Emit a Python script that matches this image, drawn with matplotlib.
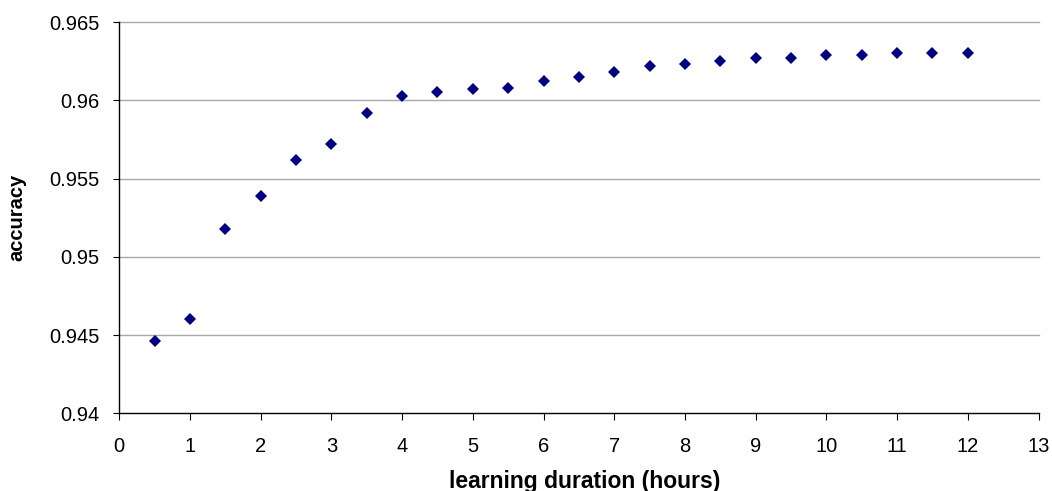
"""Accuracy vs learning duration scatter, Excel-style."""

import numpy as np
import matplotlib
matplotlib.use("Agg")
import matplotlib.pyplot as plt

plt.rcParams['font.family'] = ['Liberation Sans', 'DejaVu Sans']

hours = [0.5, 1, 1.5, 2, 2.5, 3, 3.5, 4, 4.5, 5, 5.5, 6,
         6.5, 7, 7.5, 8, 8.5, 9, 9.5, 10, 10.5, 11, 11.5, 12]
accuracy = [0.9446, 0.9460, 0.9518, 0.9539, 0.9562, 0.9572, 0.9592, 0.9603,
            0.9605, 0.9607, 0.9608, 0.9612, 0.9615, 0.9618, 0.9622, 0.9623,
            0.9625, 0.9627, 0.9627, 0.9629, 0.9629, 0.9630, 0.9630, 0.9630]

x_ticks = list(range(0, 14))
y_ticks = [0.94, 0.945, 0.95, 0.955, 0.96, 0.965]
y_tick_labels = ['0.94', '0.945', '0.95', '0.955', '0.96', '0.965']

W, H = 1052, 491
fig = plt.figure(figsize=(W / 100, H / 100), dpi=100)
left, right, top, bottom = 119.3, 1038.5, 22, 413.3
ax = fig.add_axes([left / W, 1 - bottom / H, (right - left) / W, (bottom - top) / H])

grid_color = '#a8a8a8'
for yv in y_ticks[1:]:
    ax.axhline(yv, color=grid_color, lw=1.0, zorder=1, clip_on=False)

ax.plot(hours, accuracy, linestyle='none', marker='D', markersize=5.8,
        color='#000080', markeredgewidth=0, zorder=3)

ax.set_xlim(0, 13)
ax.set_ylim(0.94, 0.965)
ax.set_xticks(x_ticks)
ax.set_yticks(y_ticks)
ax.set_yticklabels(y_tick_labels)

for side in ('top', 'right'):
    ax.spines[side].set_visible(False)
for side in ('left', 'bottom'):
    ax.spines[side].set_color('black')
    ax.spines[side].set_linewidth(1.0)

ax.tick_params(axis='x', direction='out', length=5, width=0.8, pad=12,
               labelsize=14.5, colors='black')
ax.tick_params(axis='y', direction='out', length=4.5, width=0.8, pad=10,
               labelsize=14.5, colors='black')

fig.text(585 / W, 3 / H, 'learning duration (hours)', ha='center',
         va='baseline', fontsize=16.5, fontweight='bold')
fig.text(16.5 / W, 1 - (top + bottom) / 2 / H, 'accuracy', ha='center',
         va='center', rotation=90, fontsize=14.5, fontweight='bold')

fig.savefig('out.png', dpi=100)
